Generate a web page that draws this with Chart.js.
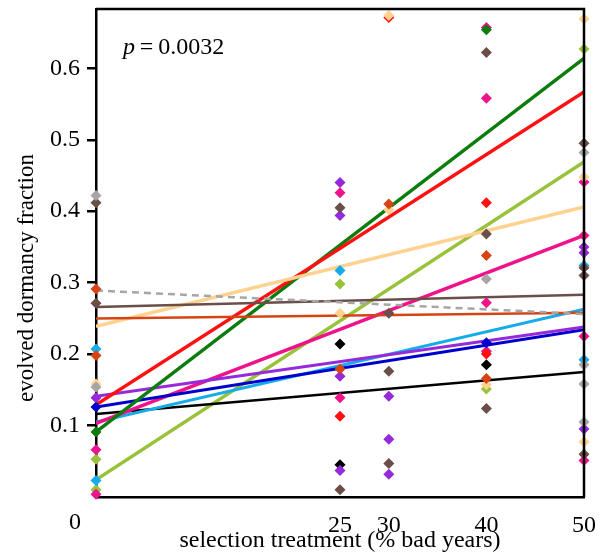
<!DOCTYPE html>
<html>
<head>
<meta charset="utf-8">
<script src="https://cdn.jsdelivr.net/npm/chart.js@4/dist/chart.umd.min.js"></script>
<style>
  html, body { margin: 0; padding: 0; background: #fff; }
  #box { width: 604px; height: 555px; }
</style>
</head>
<body>
<div id="box"><canvas id="dormChart"></canvas></div>
<script>
// treatments (% bad years) and tick labels
const treatments = [0, 25, 30, 40, 50];
const xTickValues = [25, 30, 40, 50];
const yTickValues = [0.1, 0.2, 0.3, 0.4, 0.5, 0.6];

// one array per population, values listed per treatment column (0, 25, 30, 40, 50)
const greyPts   = [[0.422, 0.154], [], [], [0.305], [0.482, 0.185, 0.158, 0.105]];
const brownPts  = [[0.412, 0.271], [0.405, 0.010], [0.257, 0.176, 0.047], [0.622, 0.368, 0.124], [0.495, 0.321, 0.310, 0.060]];
const orangePts = [[0.291, 0.198], [0.179], [0.410], [0.338, 0.166], []];
const peachPts  = [[0.158], [0.257], [0.674, 0.402], [0.157], [0.669, 0.448, 0.077]];
const redPts    = [[], [0.113], [0.671], [0.412, 0.200], []];
const greenPts  = [[0.091], [], [], [0.654], []];
const purplePts = [[0.139], [0.440, 0.394, 0.169, 0.037], [0.141, 0.081, 0.032], [], [0.350, 0.342, 0.095]];
const bluePts   = [[0.126], [], [], [0.216], []];
const pinkPts   = [[0.066, 0.004], [0.426, 0.139], [], [0.657, 0.558, 0.272, 0.204], [0.441, 0.366, 0.225, 0.051]];
const cyanPts   = [[0.207, 0.023], [0.317], [], [], [0.324, 0.192]];
const blackPts  = [[], [0.214, 0.045], [], [0.185], []];
const olivePts  = [[0.053, 0.010], [0.298], [], [0.151], [0.627]];

// fitted line values at 0 and 50 % bad years
const fitAt0  = [0.289, 0.266, 0.250, 0.239, 0.129, 0.091, 0.141, 0.126, 0.103, 0.105, 0.116, 0.024];
const fitAt50 = [0.256, 0.283, 0.258, 0.406, 0.567, 0.614, 0.238, 0.234, 0.366, 0.263, 0.175, 0.469];

const allPts = [greyPts, brownPts, orangePts, peachPts, redPts, greenPts, purplePts, bluePts, pinkPts, cyanPts, blackPts, olivePts];
const colours = ['#a6a6a6', '#6b4e47', '#d64413', '#ffd28f', '#ff1111', '#0c7c0c', '#962adb', '#0000cc', '#ee138a', '#16aceb', '#000000', '#98c23a'];
const widths  = [2.5, 2.5, 2.5, 3.5, 3.5, 3.5, 3, 3, 3.5, 3, 2.5, 3.5];

const serif = '"Liberation Serif", "Times New Roman", serif';

let datasets = [];
allPts.forEach((cols, g) => {
  let pts = [];
  cols.forEach((vals, i) => vals.forEach(v => pts.push({x: treatments[i], y: v})));
  datasets.push({
    type: 'scatter',
    data: pts,
    pointStyle: 'rectRot',
    pointRadius: 5.5,
    pointBackgroundColor: colours[g],
    pointBorderColor: colours[g],
    pointBorderWidth: 0,
    clip: false,
    order: 0
  });
});
allPts.forEach((cols, g) => {
  datasets.push({
    type: 'line',
    data: [{x: treatments[0], y: fitAt0[g]}, {x: treatments[treatments.length - 1], y: fitAt50[g]}],
    borderColor: colours[g],
    borderWidth: widths[g],
    borderDash: g === 0 ? [7, 5] : [],
    pointRadius: 0,
    fill: false,
    order: 1
  });
});

// frame on top/right, y title, the offset "0" label and the p-value
const extras = {
  id: 'extras',
  afterDraw(chart) {
    const {ctx, chartArea: a} = chart;
    ctx.save();
    ctx.strokeStyle = '#000';
    ctx.lineWidth = 2.5;
    ctx.beginPath();
    ctx.moveTo(a.left, a.top);
    ctx.lineTo(a.right, a.top);
    ctx.lineTo(a.right, a.bottom);
    ctx.stroke();
    ctx.fillStyle = '#000';
    ctx.font = '24px ' + serif;
    ctx.textAlign = 'center';
    ctx.textBaseline = 'alphabetic';
    ctx.fillText('0', 75, 529);
    // y axis title
    ctx.save();
    ctx.translate(33, 278);
    ctx.rotate(-Math.PI / 2);
    ctx.font = '23px ' + serif;
    ctx.fillText('evolved dormancy fraction', 0, 0);
    ctx.restore();
    ctx.textAlign = 'left';
    ctx.font = 'italic 24px ' + serif;
    ctx.fillText('p', 123, 54);
    const pw = ctx.measureText('p').width;
    ctx.font = '24px ' + serif;
    ctx.fillText('\u2009=\u20090.0032', 123 + pw, 54);
    ctx.restore();
  }
};

new Chart(document.getElementById('dormChart').getContext('2d'), {
  type: 'scatter',
  data: { datasets: datasets },
  options: {
    responsive: true,
    maintainAspectRatio: false,
    animation: false,
    layout: { padding: { top: 9, right: 20, left: 0, bottom: 0 } },
    plugins: { legend: { display: false }, tooltip: { enabled: false } },
    scales: {
      x: {
        type: 'linear',
        min: 0,
        max: 50,
        afterBuildTicks: s => { s.ticks = xTickValues.map(v => ({value: v})); },
        afterFit: s => { s.height = 58; s.paddingLeft = 0; s.paddingRight = 0; },
        grid: { display: false },
        border: { display: true, color: '#000', width: 2.5 },
        ticks: { color: '#000', font: { family: serif, size: 24 }, padding: 6, maxRotation: 0, autoSkip: false },
        title: { display: true, text: 'selection treatment (% bad years)', color: '#000', font: { family: serif, size: 24 }, padding: { top: 0, bottom: 0 } }
      },
      y: {
        min: 0,
        max: 0.683,
        afterBuildTicks: s => { s.ticks = yTickValues.map(v => ({value: v})); },
        afterFit: s => { s.width = 96; s.paddingTop = 0; s.paddingBottom = 0; },
        grid: { display: true, drawOnChartArea: false, drawTicks: true, tickLength: 9, color: '#000', lineWidth: 2.5 },
        border: { display: true, color: '#000', width: 2.5 },
        ticks: { color: '#000', font: { family: serif, size: 24 }, padding: 7, callback: v => v.toFixed(1) },
        title: { display: false }
      }
    }
  },
  plugins: [extras]
});
</script>
</body>
</html>
